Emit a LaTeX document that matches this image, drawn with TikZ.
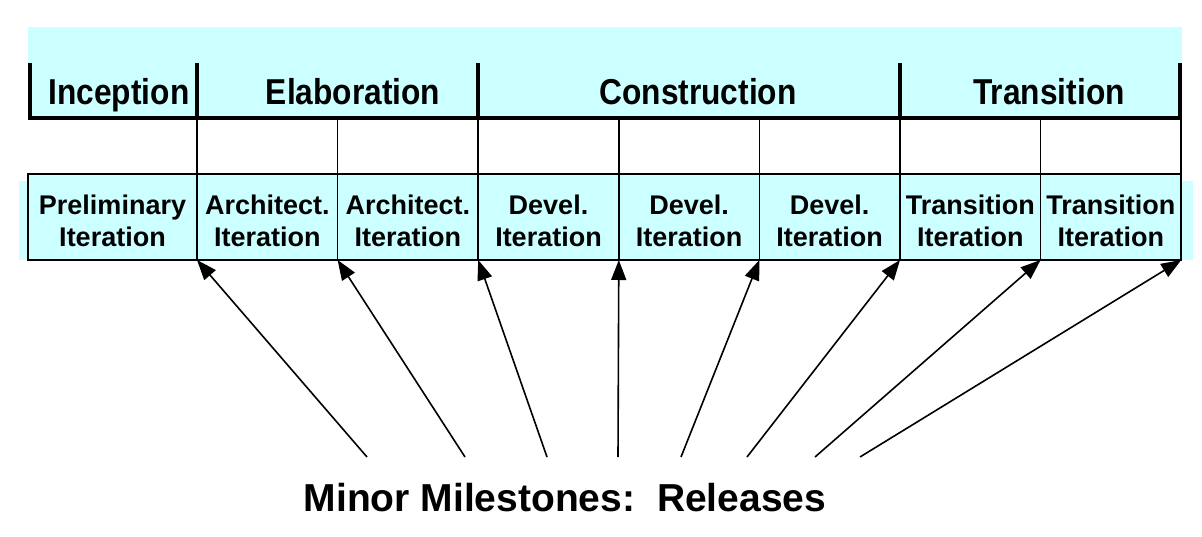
\documentclass[tikz,border=0pt]{standalone}
\usepackage{fontspec}
\setmainfont{Liberation Sans}
\newfontfamily\phasefont[FakeStretch=0.88]{Liberation Sans}
\usepackage{tikz}
\usetikzlibrary{arrows.meta,positioning}
\definecolor{pale}{HTML}{CCFFFF}

\begin{document}
\begin{tikzpicture}[
    x=1pt, y=-1pt,
    node distance=0pt,
    cell/.style={draw, line width=1.6pt, fill=pale, minimum width=140.6pt, minimum height=86pt, inner sep=0pt, outer sep=0pt, align=center, font=\fontsize{27}{32}\selectfont\bfseries, text height=60pt},
    phase/.style={anchor=base, font=\phasefont\fontsize{36}{40}\selectfont\bfseries},
    bar/.style={line width=3.6pt},
    slot/.style={line width=1.6pt},
    release/.style={-{Triangle[length=20pt,width=15pt]}, line width=1.6pt}
]
    \useasboundingbox (0,0) rectangle (1202,537);
    \fill[pale] (28,27) rectangle (1182,118);
    \fill[pale] (19,181) rectangle (1193,260);

    \node[cell, minimum width=169pt] (it1) at (112.5,217) {Preliminary\\Iteration};
    \node[cell, right=of it1] (it2) {Architect.\\Iteration};
    \node[cell, right=of it2] (it3) {Architect.\\Iteration};
    \node[cell, right=of it3] (it4) {Devel.\\Iteration};
    \node[cell, right=of it4] (it5) {Devel.\\Iteration};
    \node[cell, right=of it5] (it6) {Devel.\\Iteration};
    \node[cell, right=of it6] (it7) {Transition\\Iteration};
    \node[cell, right=of it7] (it8) {Transition\\Iteration};

    \node[phase] (inc) at (119,105) {Inception};
    \node[phase] (ela) at (353,105) {Elaboration};
    \node[phase] (con) at (698,105) {Construction};
    \node[phase] (tra) at (1049,105) {Transition};

    \draw[bar] (30,63) |- (1180,118) -- (1180,63);
    \foreach \i in {2,4,7}
        \draw[bar] (it\i.north west) ++(0,-56) -- ++(0,-55);
    \foreach \i in {2,...,8}
        \draw[slot] (it\i.north west) -- ++(0,-56);
    \draw[slot] (it8.north east) -- ++(0,-56);

    \node[font=\fontsize{39}{44}\selectfont\bfseries] (ms) at (565,498) {Minor Milestones:\ \ Releases};

    \foreach \sx/\tg [count=\i] in {367/it2, 465/it3, 547/it4, 618/it5, 681/it6, 747/it7, 815/it8} {
        \coordinate (m\i) at (\sx,457);
        \draw[release] (m\i) -- (\tg.south west);
    }
    \coordinate (m8) at (860,457);
    \draw[release] (m8) -- (it8.south east);
\end{tikzpicture}
\end{document}
